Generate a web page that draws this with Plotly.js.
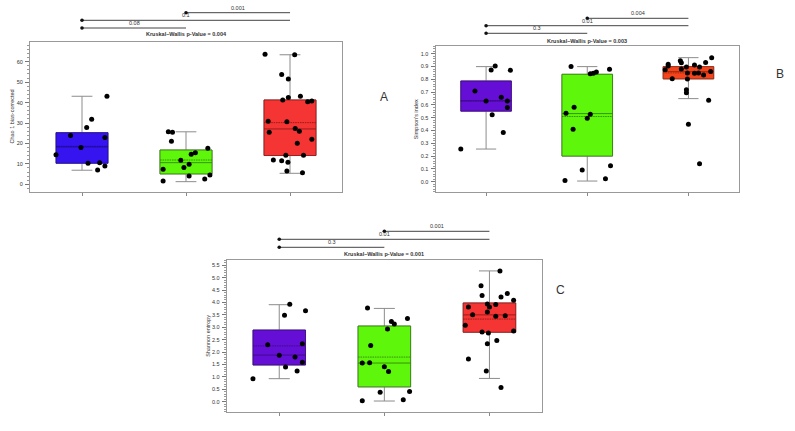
<!DOCTYPE html>
<html><head><meta charset="utf-8">
<script src="https://cdn.plot.ly/plotly-3.0.1.min.js"></script>
<style>html,body{margin:0;padding:0;background:#fff;}#chart{width:795px;height:431px;}</style>
</head><body><div id="chart"></div>
<script>
// ---------- DATA ----------
const groupIdx = [0, 1, 2];
const panelLetters = ["A", "B", "C"];
const yTitles = ["Chao 1 bias-corrected", "Simpson's index", "Shannon entropy"];
const kruskalP = ["0.004", "0.003", "0.001"];
// pairwise p-values: [g1-g2, g1-g3, g2-g3]
const pairP_A = ["0.08", "0.1", "0.001"];
const pairP_B = ["0.3", "0.01", "0.004"];
const pairP_C = ["0.3", "0.01", "0.001"];
const pairs = [[0, 1], [0, 2], [1, 2]];

// Panel A – Chao1
const chaoG1 = [14.5, 23.9, 18.0, 27.8, 31.9, 43.1, 10.3, 10.6, 7.0, 9.0, 22.9];
const chaoG1Jit = [-0.25, -0.11, -0.01, 0.045, 0.093, 0.24, 0.058, 0.17, 0.15, 0.22, 0.22];
const chaoG2 = [1.6, 7.4, 25.7, 25.5, 21.1, 11.8, 8.2, 9.8, 4.1, 14.7, 15.5, 2.6, 17.6, 4.6];
const chaoG2Jit = [-0.22, -0.22, -0.17, -0.13, -0.14, -0.05, -0.02, 0.03, 0.03, 0.05, 0.09, 0.18, 0.21, 0.23];
const chaoG3 = [63.7, 63.4, 53.8, 51.6, 42.5, 41.3, 43.1, 40.4, 40.8, 30.9, 25.5, 30.6, 27.3, 26.0, 20.1, 22.1, 14.2, 14.2, 11.9, 11.6, 10.8, 6.5, 5.7];
const chaoG3Jit = [-0.24, 0.045, -0.08, -0.016, -0.016, -0.07, 0.10, 0.17, 0.21, -0.21, -0.2, -0.03, 0.05, 0.09, 0.07, 0.21, -0.04, 0.13, -0.16, -0.08, -0.02, -0.03, 0.12];
// box stats per group: [lowerfence, q1, median, q3, upperfence, mean]
const chaoStats = [[6.9, 10.3, 18.3, 25.3, 43.1, 18.6], [1.3, 5.1, 10.6, 16.8, 25.7, 11.9], [5.4, 14.1, 27.1, 41.3, 63.4, 30.2]];

// Panel B – Simpson
const simpG1 = [0.255, 0.709, 0.631, 0.873, 0.904, 0.522, 0.660, 0.384, 0.631, 0.579, 0.870];
const simpG1Jit = [-0.25, -0.11, 0.0, 0.05, 0.09, 0.06, 0.15, 0.17, 0.21, 0.21, 0.24];
const simpG2 = [0.01, 0.535, 0.899, 0.582, 0.41, 0.091, 0.496, 0.527, 0.844, 0.847, 0.857, 0.023, 0.878, 0.125];
const simpG2Jit = [-0.22, -0.21, -0.16, -0.13, -0.14, -0.05, 0.0, 0.03, 0.03, 0.06, 0.09, 0.18, 0.22, 0.23];
const simpG3 = [0.875, 0.904, 0.917, 0.805, 0.945, 0.93, 0.88, 0.896, 0.849, 0.803, 0.719, 0.694, 0.449, 0.912, 0.847, 0.849, 0.896, 0.14, 0.834, 0.932, 0.636, 0.969, 0.860];
const simpG3Jit = [-0.23, -0.2, -0.2, -0.16, -0.08, -0.07, -0.07, -0.02, -0.01, -0.01, -0.02, -0.02, 0.0, 0.06, 0.06, 0.1, 0.11, 0.11, 0.15, 0.17, 0.2, 0.23, 0.22];
const simpStats = [[0.255, 0.551, 0.632, 0.787, 0.899, 0.63], [0.005, 0.2, 0.532, 0.839, 0.899, 0.509], [0.649, 0.803, 0.86, 0.899, 0.969, 0.85]];

// Panel C – Shannon
const shanG1 = [0.93, 2.30, 1.87, 3.48, 3.93, 1.40, 1.80, 1.24, 2.34, 1.59, 3.67];
const shanG1Jit = [-0.25, -0.11, 0.0, 0.05, 0.1, 0.06, 0.15, 0.17, 0.22, 0.22, 0.25];
const shanG2 = [3.78, 2.27, 1.56, 1.57, 1.41, 0.38, 0.04, 2.93, 3.23, 3.13, 3.35, 1.22, 0.41, 0.08];
const shanG2Jit = [-0.16, -0.13, -0.21, -0.14, 0.0, -0.04, -0.21, 0.03, 0.067, 0.095, 0.22, 0.04, 0.24, 0.18];
const shanG3 = [5.27, 4.67, 4.28, 3.94, 3.82, 3.92, 3.82, 3.50, 3.62, 3.44, 3.46, 4.22, 4.36, 4.09, 3.08, 2.81, 2.77, 2.85, 2.34, 2.47, 1.72, 1.24, 0.57];
const shanG3Jit = [0.10, -0.08, -0.07, -0.02, 0.0, 0.06, -0.2, -0.16, -0.02, 0.06, 0.15, 0.11, 0.17, 0.23, -0.23, -0.07, -0.01, 0.23, -0.02, 0.07, -0.2, -0.03, 0.11];
const shanStats = [[0.93, 1.48, 1.88, 2.89, 3.91, 2.25], [0.03, 0.60, 1.56, 3.05, 3.76, 1.80], [0.94, 2.80, 3.50, 3.98, 5.27, 3.33]];

// ---------- STYLE / LAYOUT ----------
const W = 795, H = 431;
const px = x => x / W, py = y => 1 - y / H;
const FONT = "Liberation Sans, Arial, sans-serif";

const panels = [
  { sfx: "", vals: [chaoG1, chaoG2, chaoG3], jit: [chaoG1Jit, chaoG2Jit, chaoG3Jit], stats: chaoStats, pp: pairP_A,
    fills: ["#3614f0", "#5ef70c", "#f53434"], lines: ["#1e0a8a", "#2f7a06", "#8a1414"],
    xdom: [30, 342], ydom: [41.7, 192.3], yrange: [-3.9, 69.8], dtick: 10, mdt: 2, fmt: "d",
    bracketY: [28, 20.3, 12.7], kwY: 34.3, letter: [384, 97], titleX: 11.5 },
  { sfx: "2", vals: [simpG1, simpG2, simpG3], jit: [simpG1Jit, simpG2Jit, simpG3Jit], stats: simpStats, pp: pairP_B,
    fills: ["#650fd6", "#5ef70c", "#f5431c"], lines: ["#38087a", "#2f7a06", "#8a2410"],
    xdom: [435.5, 739], ydom: [46, 192.3], yrange: [-0.083, 1.06], dtick: 0.1, mdt: 0.02, fmt: ".1f",
    bracketY: [33.3, 25.7, 18.3], kwY: 40.7, letter: [780, 74], titleX: 416 },
  { sfx: "3", vals: [shanG1, shanG2, shanG3], jit: [shanG1Jit, shanG2Jit, shanG3Jit], stats: shanStats, pp: pairP_C,
    fills: ["#650fd6", "#5ef70c", "#f53434"], lines: ["#38087a", "#2f7a06", "#8a1414"],
    xdom: [226.7, 542], ydom: [260, 411.7], yrange: [-0.4, 5.71], dtick: 0.5, mdt: 0.1, fmt: ".1f",
    bracketY: [247.3, 239.3, 231.3], kwY: 254, letter: [560, 290], titleX: 208 }
];

const traces = [];
const layout = {
  width: W, height: H, margin: { l: 0, r: 0, t: 0, b: 0 },
  paper_bgcolor: "#fff", plot_bgcolor: "#fff", showlegend: false,
  boxmode: "overlay", font: { family: FONT, color: "#222" },
  shapes: [], annotations: []
};

panels.forEach((p, pi) => {
  const xa = "x" + p.sfx, ya = "y" + p.sfx;
  groupIdx.forEach(g => {
    const s = p.stats[g];
    // whiskers (grey)
    traces.push({ type: "box", xaxis: xa, yaxis: ya, x: [groupIdx[g]],
      lowerfence: [s[0]], q1: [s[1]], median: [s[2]], q3: [s[3]], upperfence: [s[4]],
      width: 0.5, whiskerwidth: 0.4, boxpoints: false, fillcolor: "rgba(0,0,0,0)",
      line: { color: "#8c8c8c", width: 1 }, hoverinfo: "skip" });
    // box body
    traces.push({ type: "box", xaxis: xa, yaxis: ya, x: [groupIdx[g]],
      lowerfence: [s[1]], q1: [s[1]], median: [s[2]], q3: [s[3]], upperfence: [s[3]], mean: [s[5]],
      boxmean: true, width: 0.5, whiskerwidth: 0, boxpoints: false, fillcolor: p.fills[g],
      line: { color: p.lines[g], width: 0.8 }, hoverinfo: "skip" });
    // points
    traces.push({ type: "scatter", mode: "markers", xaxis: xa, yaxis: ya,
      x: p.jit[g].map(j => groupIdx[g] + j), y: p.vals[g], cliponaxis: false,
      marker: { color: "#000", size: 5 }, hoverinfo: "skip" });
  });

  layout["xaxis" + p.sfx] = {
    domain: [px(p.xdom[0]), px(p.xdom[1])], anchor: ya, range: [-0.5, 2.5],
    tickvals: groupIdx, ticktext: ["", "", ""], showticklabels: false,
    ticks: "outside", ticklen: 3, tickcolor: "#888", showgrid: false, zeroline: false,
    showline: true, linecolor: "#999", linewidth: 1, mirror: true, fixedrange: true
  };
  layout["yaxis" + p.sfx] = {
    domain: [py(p.ydom[1]), py(p.ydom[0])], anchor: xa, range: p.yrange,
    tick0: 0, dtick: p.dtick, tickformat: p.fmt, ticks: "outside", ticklen: 4, tickcolor: "#777",
    tickfont: { size: 5.5, color: "#333", family: FONT }, ticklabelstandoff: 1,
    minor: { dtick: p.mdt, ticks: "outside", ticklen: 2, tickcolor: "#999" },
    showgrid: false, zeroline: false, showline: true, linecolor: "#999", linewidth: 1, mirror: true, fixedrange: true
  };

  // significance brackets
  pairs.forEach((pr, k) => {
    const yy = py(p.bracketY[k]);
    layout.shapes.push({ type: "line", xref: xa, yref: "paper", x0: groupIdx[pr[0]], x1: groupIdx[pr[1]],
      y0: yy, y1: yy, line: { color: "#444", width: 1 } });
    layout.shapes.push({ type: "circle", xref: xa, yref: "paper", xsizemode: "pixel", ysizemode: "pixel",
      xanchor: groupIdx[pr[0]], yanchor: yy, x0: -1.8, x1: 1.8, y0: -1.8, y1: 1.8,
      fillcolor: "#111", line: { width: 0 } });
    layout.annotations.push({ xref: xa, yref: "paper", x: (groupIdx[pr[0]] + groupIdx[pr[1]]) / 2,
      y: yy, yanchor: "bottom", xanchor: "center", yshift: 0, showarrow: false,
      text: p.pp[k], font: { size: 5.5, color: "#333", family: FONT } });
  });
  layout.annotations.push({ xref: xa, yref: "paper", x: 1, y: py(p.kwY), xanchor: "center", yanchor: "middle",
    showarrow: false, text: "<b>Kruskal–Wallis p-Value = " + kruskalP[pi] + "</b>",
    font: { size: 5.5, color: "#333", family: FONT } });
  layout.annotations.push({ xref: "paper", yref: "paper", x: px(p.letter[0]), y: py(p.letter[1]),
    xanchor: "center", yanchor: "middle", showarrow: false, text: panelLetters[pi],
    font: { size: 12, color: "#333", family: FONT } });
  layout.annotations.push({ xref: "paper", yref: "paper", x: px(p.titleX), y: py((p.ydom[0] + p.ydom[1]) / 2),
    xanchor: "center", yanchor: "middle", showarrow: false, textangle: -90, text: yTitles[pi],
    font: { size: 5.5, color: "#333", family: FONT } });
});

Plotly.newPlot("chart", traces, layout, { displayModeBar: false, staticPlot: true });
</script></body></html>
